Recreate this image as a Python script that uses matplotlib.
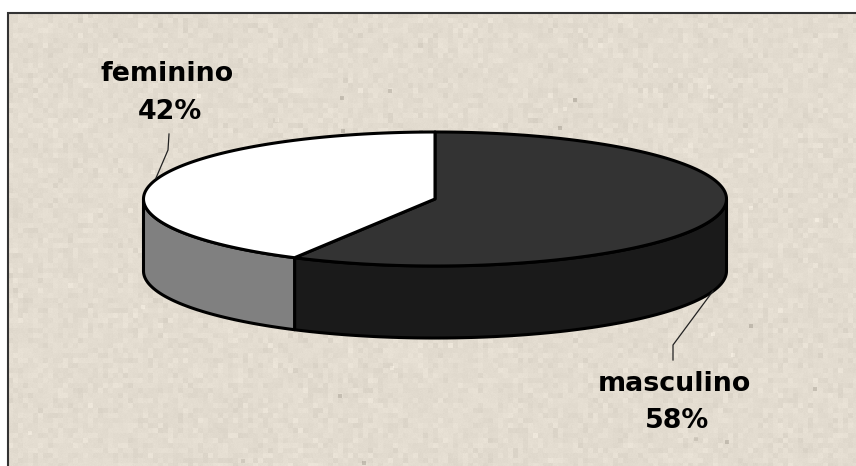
import matplotlib
matplotlib.use("Agg")
import matplotlib.pyplot as plt
import numpy as np

# pie data
labels = ["masculino", "feminino"]
values = [58, 42]
top_colors = ["#333333", "#ffffff"]
side_colors = ["#1a1a1a", "#808080"]

W, H = 856, 466
fig = plt.figure(figsize=(W / 100, H / 100), dpi=100, facecolor="white")
ax = fig.add_axes([0, 0, 1, 1])

# paper-like background, only a texture, not data
rng = np.random.default_rng(4)
left, top = 8, 13
tw, th = W - left, H - top
blocks = rng.normal(0, 3.2, (th // 5 + 1, tw // 5 + 1))
tex = np.kron(blocks, np.ones((5, 5)))[:th, :tw]
tex += rng.normal(0, 1.0, (th, tw))
for i in range(40):
    yy, xx = rng.integers(0, th - 4), rng.integers(0, tw - 4)
    tex[yy:yy + 4, xx:xx + 4] += rng.choice([-32, -20, 12])
base = np.array([227, 220, 208])
img = np.clip(base[None, None, :] + tex[:, :, None], 0, 255).astype(np.uint8)
ax.imshow(img, extent=(left, W, H, top), aspect="auto", interpolation="bilinear", zorder=0)
ax.set_xlim(0, W)
ax.set_ylim(H, 0)
ax.axis("off")

# frame only on the left and top, the rest runs off the picture
ax.plot([left, left, W], [H, top, top], color="#333333", lw=1.5, solid_joinstyle="miter", zorder=1)

cx, cy, rx, ry, depth = 435, 199, 291.5, 67, 72


def ell(a):
    # angle clockwise from 12 o'clock, in degrees
    a = np.radians(a)
    return cx + rx * np.sin(a), cy - ry * np.cos(a)


angles = np.cumsum([0] + values) / sum(values) * 360

# side walls first (only the front half of the ellipse is visible)
for i in range(len(values)):
    a0 = max(angles[i], 90)
    a1 = min(angles[i + 1], 270)
    if a1 <= a0:
        continue
    t = np.linspace(a0, a1, 150)
    x, y = ell(t)
    ax.fill(np.r_[x, x[::-1]], np.r_[y, y[::-1] + depth], fc=side_colors[i],
            ec="black", lw=2.2, joinstyle="round", zorder=2)

# top wedges
for i in range(len(values)):
    t = np.linspace(angles[i], angles[i + 1], 200)
    x, y = ell(t)
    ax.fill(np.r_[cx, x], np.r_[cy, y], fc=top_colors[i], ec="black", lw=2.2,
            joinstyle="round", zorder=3)

# leader lines
ax.plot([169, 168, 156], [134, 150, 178], color="#222222", lw=0.9, zorder=4)
ax.plot([713, 673, 673], [291, 345, 360], color="#222222", lw=0.9, zorder=4)

font = dict(family="DejaVu Sans", fontweight="bold", fontsize=19.4, color="black",
            ha="center", va="center", zorder=5)
ax.text(167.5, 74, labels[1], **font)
ax.text(170, 112, "%d%%" % values[1], **font)
ax.text(674, 384, labels[0], **font)
ax.text(677, 421, "%d%%" % values[0], **font)

fig.savefig("out.png", dpi=100)
